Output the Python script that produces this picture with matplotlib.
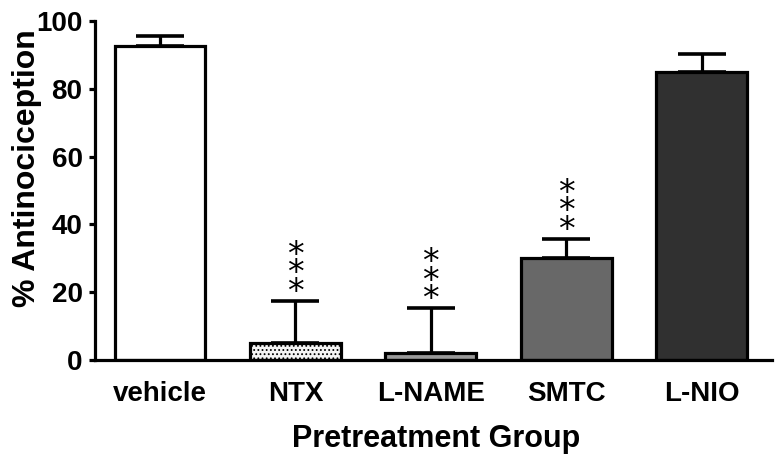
import numpy as np
import matplotlib
matplotlib.use('Agg')
import matplotlib.pyplot as plt

# データ
groups = ['vehicle', 'NTX', 'L-NAME', 'SMTC', 'L-NIO']
means = [92.6, 5.0, 2.2, 30.2, 84.9]
sems = [3.0, 12.4, 13.1, 5.5, 5.3]
signif = ['', '***', '***', '***', '']

colors = ['#ffffff', '#f4f4f4', '#9a9a9a', '#686868', '#303030']
hatches = ['', '....', '', '', '']

plt.rcParams['font.family'] = ['Liberation Sans', 'DejaVu Sans']
plt.rcParams['font.weight'] = 'bold'
plt.rcParams['hatch.color'] = '#9a9a9a'
plt.rcParams['hatch.linewidth'] = 0.8

fig = plt.figure(figsize=(7.77, 4.66), dpi=100)
ax = fig.add_axes([0.1223, 0.2275, 0.8713, 0.7275])

x = np.arange(len(groups))
bars = ax.bar(x, means, width=0.67, color=colors, edgecolor='black', linewidth=2.3, zorder=2)
for b, h in zip(bars, hatches):
    b.set_hatch(h)

# 上側だけのエラーバー
ax.errorbar(x, means, yerr=[np.zeros(len(sems)), sems], fmt='none', ecolor='black',
            elinewidth=2.3, capsize=17, capthick=2.6, zorder=1)

# 有意差の星（縦に3つ）
for xi, m, s, txt in zip(x, means, sems, signif):
    if txt:
        ax.annotate('\n'.join(txt), (xi, m + s), xytext=(0, -5.5), textcoords='offset points',
                    ha='center', va='bottom', fontsize=24, fontweight='normal',
                    linespacing=0.43, family='DejaVu Sans')

ax.set_xlim(-0.48, 4.52)
ax.set_ylim(0, 100)
ax.set_yticks([0, 20, 40, 60, 80, 100])
ax.set_xticks(x)
ax.set_xticklabels(groups)

for side in ['top', 'right']:
    ax.spines[side].set_visible(False)
for side in ['left', 'bottom']:
    ax.spines[side].set_linewidth(2.3)

ax.tick_params(axis='y', direction='out', length=4, width=2.3, pad=5, labelsize=20)
ax.tick_params(axis='x', length=0, pad=15, labelsize=20)

ax.set_ylabel('% Antinociception', fontsize=23, fontweight='bold')
ax.yaxis.set_label_coords(-0.079, 0.566)
ax.set_xlabel('Pretreatment Group', fontsize=22, fontweight='bold')
ax.xaxis.set_label_coords(0.504, -0.19)
ax.xaxis.label.set_va('top')

fig.savefig('out.png', dpi=100)
